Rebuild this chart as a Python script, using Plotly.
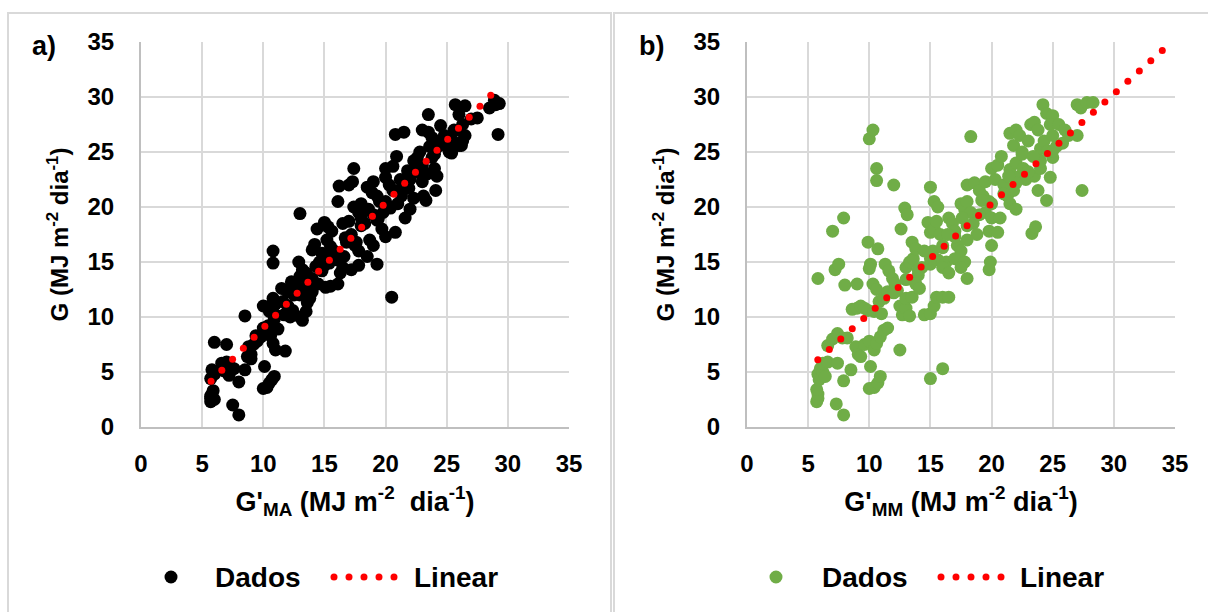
import numpy as np
import plotly.graph_objects as go

# ---------------- data ----------------
# Panel a) G'MA vs G
xa = [5.7, 5.7, 5.8, 5.9, 5.7, 6.0, 5.7, 5.8, 6.0, 6.0, 7.0, 6.6, 7.0, 7.3, 7.6, 6.8, 7.2,
      7.5, 8.0, 8.0, 8.5, 8.5, 8.7, 9.0, 8.8, 9.2, 9.5, 9.8, 9.0, 10.1, 10.0, 10.3, 10.5,
      10.7, 10.9, 10.0, 10.3, 10.5, 10.8, 11.0, 10.8, 10.8, 10.6, 10.8, 11.0, 11.2, 10.4,
      10.9, 11.8, 11.5, 12.0, 12.3, 12.6, 12.0, 12.4, 11.7, 12.2, 13.0, 12.9, 13.2, 13.5,
      13.0, 13.4, 13.8, 13.0, 13.2, 13.5, 13.6, 13.8, 14.0, 14.0, 14.2, 14.4, 14.3, 14.6,
      14.8, 15.0, 14.5, 15.1, 15.5, 15.0, 15.3, 15.6, 15.2, 15.5, 15.8, 16.0, 16.1, 16.5,
      16.3, 16.1, 16.2, 17.0, 17.3, 16.5, 17.0, 17.2, 16.8, 17.5, 17.8, 17.2, 17.8, 17.4,
      17.8, 17.4, 18.0, 18.3, 18.0, 18.5, 18.7, 19.0, 19.3, 18.5, 18.5, 18.9, 19.3, 19.0,
      19.5, 19.8, 19.3, 19.7, 20.0, 20.0, 20.3, 20.6, 20.0, 20.6, 20.9, 20.8, 21.5, 20.5,
      20.8, 21.0, 21.3, 21.6, 21.8, 22.0, 21.6, 22.0, 22.3, 22.3, 22.6, 22.9, 23.0, 22.8,
      23.1, 23.3, 23.0, 23.5, 23.8, 23.6, 23.5, 23.8, 24.0, 24.2, 24.1, 24.3, 24.5, 24.8,
      25.0, 25.2, 25.5, 25.6, 25.7, 26.5, 26.0, 26.3, 26.0, 26.3, 26.5, 27.5, 28.5, 29.0,
      29.3, 28.9, 29.2,
      11.0, 12.0, 13.0, 14.0, 15.0, 16.0, 17.0, 18.0, 19.0, 20.0, 21.0, 22.0, 23.0, 24.0,
      25.0, 26.0, 27.0, 9.4, 10.0, 12.5, 14.8, 16.7, 18.6, 21.2, 22.4, 24.6,
      11.6, 12.8, 13.9, 15.4, 16.6, 17.6, 19.4, 20.4, 21.9, 23.4, 25.4, 26.2]
ya = [2.3, 2.6, 3.0, 3.3, 2.8, 2.5, 4.4, 5.2, 4.8, 7.7, 7.5, 5.8, 5.9, 5.5, 5.3, 5.1, 4.7,
      2.0, 1.1, 4.1, 5.2, 10.1, 6.4, 6.6, 7.3, 7.5, 7.8, 8.2, 6.2, 5.5, 3.5, 3.6, 4.0,
      4.3, 4.6, 11.0, 10.9, 10.5, 11.7, 11.2, 16.0, 14.9, 8.3, 7.6, 7.0, 8.9, 9.2,
      9.8, 6.9, 12.6, 12.3, 13.2, 13.0, 11.0, 10.6, 10.2, 10.0, 19.4, 15.0, 14.3, 14.0,
      13.7, 12.7, 13.3, 10.0, 9.7, 10.5, 11.3, 11.7, 12.3, 16.1, 16.6, 18.0, 14.6, 15.0,
      14.2, 15.5, 13.0, 12.7, 12.8, 18.6, 18.2, 17.8, 17.0, 16.4, 16.0, 15.2, 13.0, 14.5,
      14.0, 20.5, 21.9, 22.0, 22.3, 18.5, 18.7, 17.5, 16.8, 16.5, 16.0, 14.3, 14.7, 23.5,
      19.5, 20.0, 19.0, 18.5, 20.3, 19.8, 17.0, 16.5, 14.8, 15.5, 21.8, 21.3, 21.0, 22.3,
      20.5, 19.5, 18.8, 18.0, 17.3, 22.7, 22.0, 21.5, 23.5, 23.7, 24.6, 26.6, 26.8, 11.8,
      17.7, 20.3, 21.0, 22.4, 23.3, 22.8, 19.0, 19.8, 20.8, 24.2, 24.5, 23.0, 22.3, 25.0,
      21.0, 20.6, 27.0, 26.8, 26.3, 25.5, 28.4, 24.5, 23.5, 22.8, 21.5, 25.5, 27.4, 26.5,
      25.5, 25.0, 26.0, 27.0, 29.3, 29.2, 28.4, 27.5, 25.6, 26.0, 26.5, 28.1, 29.0, 29.3,
      29.4, 29.7, 26.6,
      10.2, 11.0, 12.0, 13.5, 14.7, 15.8, 17.0, 18.3, 19.3, 20.5, 21.5, 22.5, 23.8, 24.8,
      26.0, 27.0, 28.0, 8.3, 9.0, 12.0, 15.8, 17.2, 19.8, 22.5, 23.6, 26.0,
      11.4, 12.2, 13.0, 14.9, 15.5, 16.8, 18.9, 19.9, 21.7, 23.0, 24.9, 25.6]

# Panel b) G'MM vs G
xb = [5.8, 5.7, 5.8, 5.8, 5.7, 5.9, 5.8, 6.0, 6.2, 6.4, 6.2, 6.6, 7.3, 7.9, 7.4, 7.9, 8.5,
      6.6, 7.0, 7.4, 7.8, 8.2, 7.0, 7.9, 7.2, 7.5, 8.0, 9.0, 8.6, 9.0, 9.3, 9.6, 9.9,
      8.9, 9.1, 9.3, 9.6, 10.0, 10.4, 10.6, 10.9, 11.2, 11.5, 9.9, 10.1, 10.0, 10.3, 10.6,
      10.0, 10.3, 10.6, 10.6, 10.1, 10.0, 10.4, 10.7, 10.9, 10.7, 10.4, 10.8, 11.0, 11.2,
      11.5, 12.0, 11.3, 11.6, 11.9, 12.1, 12.3, 12.5, 12.6, 12.9, 13.1, 12.5, 12.7, 13.0,
      13.3, 13.0, 13.5, 13.0, 13.3, 13.6, 13.5, 13.8, 14.0, 14.3, 13.8, 14.1, 14.5, 15.0,
      15.3, 15.5, 16.0, 16.5, 15.0, 15.3, 15.6, 14.8, 15.0, 15.3, 15.5, 15.8, 16.0, 15.2,
      15.6, 16.3, 16.0, 16.5, 15.0, 15.0, 16.0, 16.5, 16.8, 17.0, 17.2, 17.5, 17.0, 17.8,
      17.5, 18.0, 17.5, 17.8, 18.0, 18.3, 18.5, 18.8, 18.0, 18.3, 18.0, 18.6, 19.0, 19.3,
      19.5, 19.8, 19.5, 20.0, 19.8, 20.5, 20.0, 19.9, 19.8, 20.7, 20.0, 20.5, 20.8, 20.3,
      21.0, 21.3, 21.5, 21.8, 21.5, 21.8, 22.0, 22.3, 22.5, 21.5, 22.0, 22.3, 22.6, 22.0,
      22.8, 22.5, 23.0, 23.2, 23.5, 23.8, 24.0, 24.3, 23.3, 23.6, 23.5, 23.8, 24.0, 24.2,
      24.5, 25.0, 24.8, 25.0, 25.5, 25.3, 25.8, 26.0, 26.3, 24.5, 24.8, 24.6, 25.0, 27.0,
      27.3, 27.8, 28.3, 27.0, 27.4,
      12.0, 13.0, 14.0, 15.0, 16.0, 17.0, 18.0, 19.0, 20.0, 21.0, 22.0, 23.0, 24.0, 25.0,
      14.5, 16.4, 17.6, 19.2, 21.4, 23.4]
yb = [13.5, 2.3, 2.6, 3.0, 3.4, 4.3, 4.8, 5.3, 5.0, 4.6, 5.8, 5.9, 2.1, 1.1, 5.8, 4.2, 5.2,
      7.4, 8.0, 8.5, 8.1, 8.1, 17.8, 19.0, 14.3, 14.8, 12.9, 13.0, 10.7, 10.8, 11.0, 10.8, 10.6,
      7.3, 6.6, 6.4, 7.5, 7.8, 7.0, 7.6, 8.2, 8.8, 9.0, 16.8, 14.8, 14.4, 13.0, 12.5,
      26.2, 27.0, 23.5, 22.4, 5.5, 3.5, 3.6, 4.0, 4.6, 16.2, 10.5, 11.4, 10.3, 11.7,
      12.3, 22.0, 14.8, 14.2, 13.5, 13.0, 12.4, 7.0, 18.0, 19.9, 19.3, 11.0, 10.2, 10.8,
      10.1, 11.7, 11.8, 14.5, 15.0, 15.3, 16.8, 16.2, 13.8, 14.5, 13.0, 12.6, 10.2, 10.3,
      11.0, 11.8, 11.8, 11.8, 21.8, 20.5, 20.0, 18.6, 17.7, 18.0, 18.7, 17.5, 16.5, 16.0,
      15.2, 15.0, 14.5, 14.0, 14.8, 4.4, 5.3, 19.0, 18.5, 17.8, 16.5, 16.0, 15.3, 15.0,
      14.5, 13.5, 20.3, 19.8, 20.5, 19.5, 18.5, 17.5, 17.0, 26.4, 22.0, 22.2, 21.5, 21.0,
      22.3, 20.5, 19.5, 19.0, 17.8, 17.7, 16.5, 15.0, 14.3, 19.0, 23.5, 23.8, 24.6, 22.5,
      22.0, 21.0, 20.3, 21.5, 26.7, 25.6, 27.0, 26.5, 25.0, 23.4, 24.0, 22.8, 23.5, 19.8,
      22.5, 24.8, 26.0, 27.5, 27.7, 27.0, 25.3, 26.0, 17.6, 18.2, 22.8, 21.5, 23.5, 29.3,
      28.5, 28.3, 27.5, 26.5, 27.5, 25.5, 25.8, 27.0, 26.5, 20.6, 22.7, 25.1, 24.5, 29.3,
      29.0, 29.5, 29.5, 26.5, 21.5,
      12.2, 13.4, 14.3, 15.3, 16.3, 17.3, 18.3, 19.3, 20.3, 21.2, 22.2, 23.2, 24.2, 25.1,
      16.0, 17.5, 19.0, 20.6, 22.8, 24.6]

# Linear trendlines (slope, intercept) and their x-extent
trend_a = {"slope": 1.136, "intercept": -2.34, "x0": 5.73, "x1": 28.6, "dots": 27}
trend_b = {"slope": 0.998, "intercept": 0.34, "x0": 5.79, "x1": 34.9, "dots": 32}

ticks = [0, 5, 10, 15, 20, 25, 30, 35]
panel_labels = ["a)", "b)"]
legend_labels = ["Dados", "Linear"]
x_titles = ["G'<sub>MA</sub> (MJ m<sup>-2</sup>  dia<sup>-1</sup>)",
            "G'<sub>MM</sub> (MJ m<sup>-2</sup> dia<sup>-1</sup>)"]
y_title = "G (MJ m<sup>-2</sup> dia<sup>-1</sup>)"

# ---------------- figure ----------------
W, H = 1208, 612
FONT = "Liberation Sans, Arial, sans-serif"
GREEN = "#70ad47"
RED = "#ff0000"
GRID = "#d9d9d9"


def px(xp):
    return xp / W


def py(yp):
    return 1 - yp / H


def trend_xy(t):
    tx = np.linspace(t["x0"], t["x1"], t["dots"])
    return tx, t["slope"] * tx + t["intercept"]


fig = go.Figure()

fig.add_trace(go.Scatter(x=xa, y=ya, mode="markers", xaxis="x", yaxis="y",
                         marker=dict(color="black", size=13), showlegend=False))
tx, ty = trend_xy(trend_a)
fig.add_trace(go.Scatter(x=tx, y=ty, mode="markers", xaxis="x", yaxis="y",
                         marker=dict(color=RED, size=7), showlegend=False))

fig.add_trace(go.Scatter(x=xb, y=yb, mode="markers", xaxis="x2", yaxis="y2",
                         marker=dict(color=GREEN, size=13), showlegend=False))
tx, ty = trend_xy(trend_b)
fig.add_trace(go.Scatter(x=tx, y=ty, mode="markers", xaxis="x2", yaxis="y2",
                         marker=dict(color=RED, size=7), showlegend=False, cliponaxis=False))

tickfont = dict(family=FONT, size=24, color="#000000", weight="bold")
xtitlefont = dict(family=FONT, size=27, color="#000000", weight="bold")
ytitlefont = dict(family=FONT, size=24, color="#000000", weight="bold")


def xaxis(domain, anchor, title):
    return dict(domain=domain, anchor=anchor, range=[0, 35], tickvals=ticks,
                showgrid=True, gridcolor=GRID, gridwidth=2, zeroline=False,
                showline=True, linecolor="#bfbfbf", linewidth=2, automargin=False,
                ticks="outside", ticklen=14, tickcolor="rgba(0,0,0,0)",
                tickfont=tickfont, title=dict(text=title, font=xtitlefont, standoff=16),
                fixedrange=True)


def yaxis(domain, anchor):
    return dict(domain=domain, anchor=anchor, range=[0, 35], tickvals=ticks,
                showgrid=True, gridcolor=GRID, gridwidth=2, zeroline=False,
                showline=True, linecolor="#bfbfbf", linewidth=2, automargin=False,
                ticks="outside", ticklen=20, tickcolor="rgba(0,0,0,0)",
                tickfont=tickfont, title=dict(text=y_title, font=ytitlefont, standoff=12),
                fixedrange=True)


ydom = [py(427), py(42)]
fig.update_layout(
    width=W, height=H,
    autosize=False,
    margin=dict(l=0, r=0, t=0, b=0, pad=0, autoexpand=False),
    paper_bgcolor="white", plot_bgcolor="white",
    font=dict(family=FONT, color="#000000", weight="bold"),
    xaxis=xaxis([px(141), px(569)], "y", x_titles[0]),
    yaxis=yaxis(ydom, "x"),
    xaxis2=xaxis([px(747), px(1175)], "y2", x_titles[1]),
    yaxis2=yaxis(ydom, "x2"),
    showlegend=False,
)

shapes = []
annotations = []
# panel borders
shapes.append(dict(type="rect", xref="paper", yref="paper", x0=px(8), x1=px(611),
                   y0=py(640), y1=py(13), line=dict(color=GRID, width=2), layer="below"))
shapes.append(dict(type="rect", xref="paper", yref="paper", x0=px(614), x1=px(1230),
                   y0=py(640), y1=py(13), line=dict(color=GRID, width=2), layer="below"))

# panel labels
for lab, xl in zip(panel_labels, [30, 637]):
    annotations.append(dict(text=lab, xref="paper", yref="paper", x=px(xl), y=py(46),
                            xanchor="left", yanchor="middle", showarrow=False,
                            font=dict(family=FONT, size=27, color="#000", weight="bold")))

# manual legends
leg_y = 577
for mcol, mx, dtx, dots0, dots1, ltx in [("black", 171, 213, 334, 394, 412),
                                          (GREEN, 776, 820, 941, 1001, 1018)]:
    r = 6.5
    shapes.append(dict(type="circle", xref="paper", yref="paper",
                       x0=px(mx - r), x1=px(mx + r), y0=py(leg_y + r), y1=py(leg_y - r),
                       fillcolor=mcol, line=dict(width=0)))
    for cx in np.linspace(dots0, dots1, 5):
        rr = 3.5
        shapes.append(dict(type="circle", xref="paper", yref="paper",
                           x0=px(cx - rr), x1=px(cx + rr), y0=py(leg_y + rr), y1=py(leg_y - rr),
                           fillcolor=RED, line=dict(width=0)))
    for txt, tx0 in zip(legend_labels, [dtx, ltx]):
        annotations.append(dict(text=txt, xref="paper", yref="paper", x=px(tx0), y=py(leg_y),
                                xanchor="left", yanchor="middle", showarrow=False,
                                font=dict(family=FONT, size=28, color="#000", weight="bold")))

fig.update_layout(shapes=shapes, annotations=annotations)
fig.write_html(
    "out.html",
    config={"responsive": False, "displayModeBar": False},
    post_script="document.body.style.margin='0';document.body.style.padding='0';"
                "document.documentElement.style.overflow='hidden';",
)
